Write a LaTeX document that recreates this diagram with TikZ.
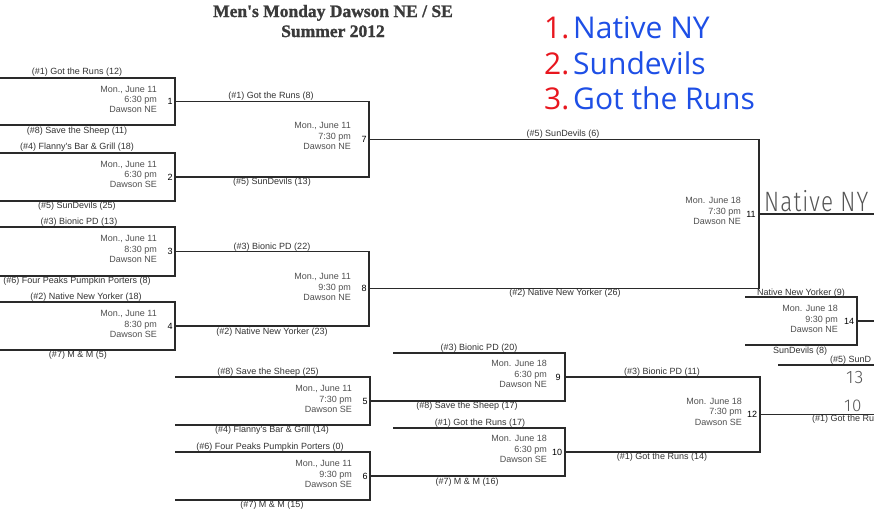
\documentclass[tikz,border=0pt]{standalone}
\usepackage{fontspec}
\usepackage{graphicx}
\newfontfamily\arialf{Liberation Sans}
\newfontfamily\legf{Open Sans}
\newfontfamily\handf{Fira Sans Light}[LetterSpace=5]
\newfontfamily\titlef{Liberation Serif Bold}[FakeBold=1.2]
\definecolor{linecol}{HTML}{2A2A2A}
\definecolor{txtcol}{HTML}{333333}
\definecolor{datecol}{HTML}{505050}
\definecolor{legred}{HTML}{E8161E}
\definecolor{legblue}{HTML}{1E4FE6}
\definecolor{handcol}{HTML}{555555}
\definecolor{titlecol}{HTML}{3A3A3A}
\newcommand\gamebox[5]{%
  \coordinate (#1-tl) at (#2,#4);
  \coordinate (#1-tr) at (#3,#4);
  \coordinate (#1-bl) at (#2,#5);
  \coordinate (#1-br) at (#3,#5);
  \coordinate (#1-o) at (#3,{(#4+#5)/2});
}
\begin{document}
\begin{tikzpicture}[x=1pt,y=-1pt,
  bline/.style={draw=linecol,line width=1.35pt},
  team/.style={font=\arialf\fontsize{9}{10}\selectfont,text=txtcol,inner sep=0pt},
  info/.style={font=\arialf\fontsize{9}{10.4}\selectfont,text=datecol,align=right,anchor=east,inner sep=0pt},
  gnum/.style={font=\arialf\fontsize{9}{10}\selectfont,text=black,inner sep=0pt},
  ttl/.style={font=\titlef\fontsize{17.5}{20}\selectfont,text=titlecol,inner sep=0pt,anchor=base},
  legnum/.style={font=\legf\fontsize{30}{34}\selectfont,text=legred,inner sep=0pt,anchor=base west},
  legtxt/.style={font=\legf\fontsize{30}{34}\selectfont,text=legblue,inner sep=0pt,anchor=base west},
  hand/.style={font=\handf\fontsize{28}{34}\selectfont,text=handcol,inner sep=0pt,anchor=base west},
]
\useasboundingbox (0,0) rectangle (874,523);
\clip (0,0) rectangle (874,523);
\fill[white] (0,0) rectangle (874,523);

% title
\node[ttl] (title1) at (333,17) {Men's Monday Dawson NE / SE};
\node[ttl] (title2) at (333,37) {Summer 2012};

% legend
\node[legnum] (l1n) at (544,38) {1.};
\node[legtxt] (l1t) at (573,38) {Native NY};
\node[legnum] (l2n) at (544,74) {2.};
\node[legtxt] (l2t) at (573,74) {Sundevils};
\node[legnum] (l3n) at (544,109) {3.};
\node[legtxt] (l3t) at (573,109) {Got the Runs};

% geometry
\gamebox{g1}{0}{175}{78}{125}
\gamebox{g2}{0}{175}{153}{201}
\gamebox{g3}{0}{175}{227}{276}
\gamebox{g4}{0}{175}{302}{350}
\gamebox{g5}{175}{370}{377}{425}
\gamebox{g6}{175}{370}{452}{500}
\gamebox{g7}{175}{369}{101.5}{177}
\gamebox{g8}{175}{369}{251.5}{326}
\gamebox{g11}{369}{759}{139.25}{288.75}
\gamebox{g9}{393}{565}{353}{401}
\gamebox{g10}{393}{565}{428}{476}
\gamebox{g12}{565}{760}{377}{452}
\gamebox{g14}{745}{857}{297}{345}
\coordinate (g11-end) at (874,214);
\coordinate (g12-end) at (874,414.5);
\coordinate (g14-end) at (874,321);
\coordinate (g15-tl) at (778,365);
\coordinate (g15-tr) at (874,365);

\foreach \g in {g1,g2,g3,g4,g5,g6,g14}
  \draw[bline] (\g-tl) -- (\g-tr) -- (\g-br) -- (\g-bl);
\draw[bline] (g1-o) -- (g7-tr) -- (g7-br) -- (g2-o);
\draw[bline] (g3-o) -- (g8-tr) -- (g8-br) -- (g4-o);
\draw[bline] (g7-o) -- (g11-tr) -- (g11-br) -- (g8-o);
\draw[bline] (g11-o) -- (g11-end);
\draw[bline] (g9-tl) -- (g9-tr) -- (g9-br) -- (g5-o);
\draw[bline] (g10-tl) -- (g10-tr) -- (g10-br) -- (g6-o);
\draw[bline] (g9-o) -- (g12-tr) -- (g12-br) -- (g10-o);
\draw[bline] (g12-o) -- (g12-end);
\draw[bline] (g14-o) -- (g14-end);
\draw[bline] (g15-tl) -- (g15-tr);

% team labels
\node[team] (t1a) at (77,72) {(\#1) Got the Runs (12)};
\node[team] (t1b) at (77,131) {(\#8) Save the Sheep (11)};
\node[team] (t2a) at (77,147) {(\#4) Flanny's Bar \& Grill (18)};
\node[team] (t2b) at (77,206) {(\#5) SunDevils (25)};
\node[team] (t3a) at (79,222) {(\#3) Bionic PD (13)};
\node[team] (t3b) at (77,281) {(\#6) Four Peaks Pumpkin Porters (8)};
\node[team] (t4a) at (86,297) {(\#2) Native New Yorker (18)};
\node[team] (t4b) at (78,355) {(\#7) M \& M (5)};
\node[team] (t7a) at (271,96) {(\#1) Got the Runs (8)};
\node[team] (t7b) at (272,182) {(\#5) SunDevils (13)};
\node[team] (t8a) at (272,247) {(\#3) Bionic PD (22)};
\node[team] (t8b) at (272,332) {(\#2) Native New Yorker (23)};
\node[team] (t5a) at (268,372) {(\#8) Save the Sheep (25)};
\node[team] (t5b) at (272,430) {(\#4) Flanny's Bar \& Grill (14)};
\node[team] (t6a) at (270,447) {(\#6) Four Peaks Pumpkin Porters (0)};
\node[team] (t6b) at (272,505) {(\#7) M \& M (15)};
\node[team] (t9a) at (479,348) {(\#3) Bionic PD (20)};
\node[team] (t9b) at (467,406) {(\#8) Save the Sheep (17)};
\node[team] (t10a) at (480,423) {(\#1) Got the Runs (17)};
\node[team] (t10b) at (467,482) {(\#7) M \& M (16)};
\node[team] (t11a) at (563,134) {(\#5) SunDevils (6)};
\node[team] (t11b) at (565,293) {(\#2) Native New Yorker (26)};
\node[team] (t12a) at (662,372) {(\#3) Bionic PD (11)};
\node[team] (t12b) at (662,457) {(\#1) Got the Runs (14)};
\node[team] (t14a) at (801,293) {Native New Yorker (9)};
\node[team] (t14b) at (800,351) {SunDevils (8)};
\node[team,anchor=west] (t15a) at (830,360) {(\#5) SunD};
\node[team,anchor=west] (t15b) at (812,419) {(\#1) Got the Ru};

% game info
\node[info] (i1) at (157,99.5) {Mon., June 11\\6:30 pm\\Dawson NE};
\node[info] (i2) at (157,174.5) {Mon., June 11\\6:30 pm\\Dawson SE};
\node[info] (i3) at (157,249) {Mon., June 11\\8:30 pm\\Dawson NE};
\node[info] (i4) at (157,324) {Mon., June 11\\8:30 pm\\Dawson SE};
\node[info] (i7) at (351,136) {Mon., June 11\\7:30 pm\\Dawson NE};
\node[info] (i8) at (351,287) {Mon., June 11\\9:30 pm\\Dawson NE};
\node[info] (i5) at (352,399) {Mon., June 11\\7:30 pm\\Dawson SE};
\node[info] (i6) at (352,474) {Mon., June 11\\9:30 pm\\Dawson SE};
\node[info] (i9) at (547,374) {Mon. June 18\\6:30 pm\\Dawson NE};
\node[info] (i10) at (547,449) {Mon. June 18\\6:30 pm\\Dawson SE};
\node[info] (i11) at (741,211) {Mon. June 18\\7:30 pm\\Dawson NE};
\node[info] (i12) at (742,411.5) {Mon. June 18\\7:30 pm\\Dawson SE};
\node[info] (i14) at (838,319) {Mon. June 18\\9:30 pm\\Dawson NE};

% game numbers
\node[gnum] (n1) at (170,101.5) {1};
\node[gnum] (n2) at (170,177) {2};
\node[gnum] (n3) at (170,251.5) {3};
\node[gnum] (n4) at (170,326) {4};
\node[gnum] (n5) at (365,401) {5};
\node[gnum] (n6) at (365,476) {6};
\node[gnum] (n7) at (364,139) {7};
\node[gnum] (n8) at (364,288.5) {8};
\node[gnum] (n9) at (558,377) {9};
\node[gnum] (n10) at (557,452) {10};
\node[gnum] (n11) at (751,214) {11};
\node[gnum] (n12) at (752,414.5) {12};
\node[gnum] (n14) at (849,321) {14};

% handwriting
\node[hand] (h1) at (764,211) {\scalebox{0.8}[1]{Native NY}};
\node[hand,font=\handf\fontsize{18}{20}\selectfont] (h2) at (846,383) {13};
\node[hand,font=\handf\fontsize{17}{20}\selectfont] (h3) at (844,411) {10};
\end{tikzpicture}
\end{document}
